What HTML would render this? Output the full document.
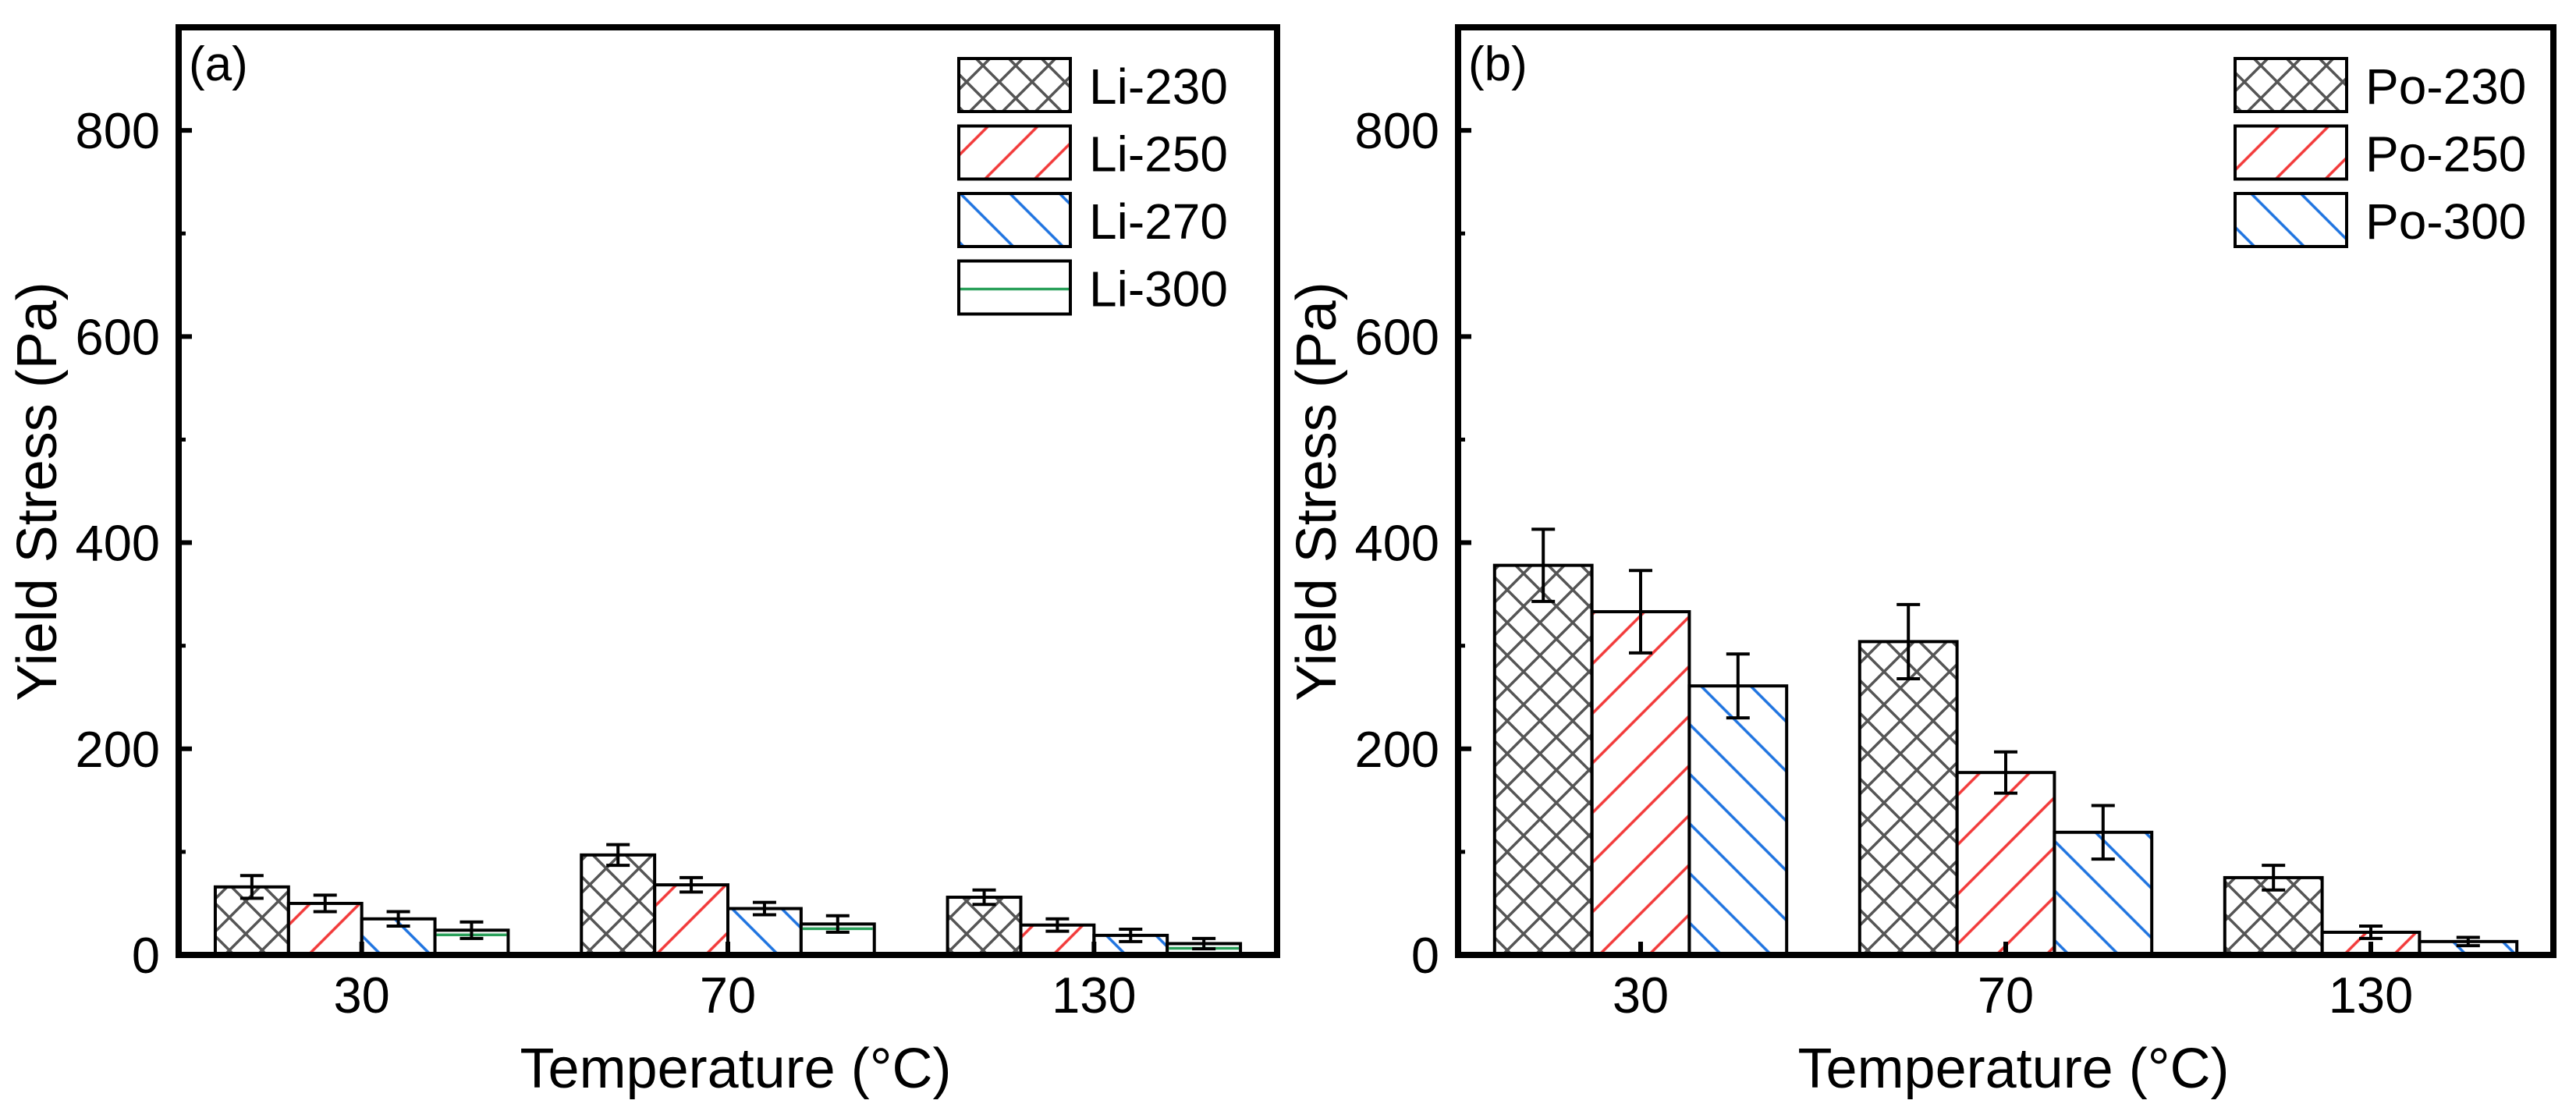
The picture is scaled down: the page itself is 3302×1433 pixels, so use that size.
<!DOCTYPE html>
<html><head><meta charset="utf-8"><style>
html,body{margin:0;padding:0;background:#fff;}
svg{display:block;font-family:"Liberation Sans",Arial,sans-serif;}
</style></head><body>
<svg id="fig" xmlns="http://www.w3.org/2000/svg" width="3302" height="1433" viewBox="0 0 3302 1433">
<defs>
<pattern id="pCross" patternUnits="userSpaceOnUse" width="42" height="42">
<path d="M0,0 L42,42 M42,0 L0,42" stroke="#555" stroke-width="3.5" fill="none"/>
</pattern>
<pattern id="pRed" patternUnits="userSpaceOnUse" width="45" height="45" patternTransform="rotate(45)">
<line x1="20" y1="0" x2="20" y2="45" stroke="#f23a3a" stroke-width="3.5"/>
</pattern>
<pattern id="pBlue" patternUnits="userSpaceOnUse" width="45" height="45" patternTransform="rotate(-45)">
<line x1="20" y1="0" x2="20" y2="45" stroke="#1f74e0" stroke-width="3.5"/>
</pattern>
</defs>
<g id="panelA"></g>
<g id="panelB"></g>
</svg>
<script>
const categories = ["30", "70", "130"];
const yTicks = [0, 200, 400, 600, 800];
const yMax = 900;

const seriesA = ["Li-230", "Li-250", "Li-270", "Li-300"];
const li230 = [66, 97, 56];
const li250 = [50, 68, 29];
const li270 = [35, 45, 19];
const li300 = [24, 30, 11];
const li230Err = [11, 10, 7];
const li250Err = [8, 7, 6];
const li270Err = [7, 6, 6];
const li300Err = [8, 8, 5];

const seriesB = ["Po-230", "Po-250", "Po-300"];
const po230 = [378, 304, 75];
const po250 = [333, 177, 22];
const po300 = [261, 119, 13];
const po230Err = [35, 36, 12];
const po250Err = [40, 20, 6];
const po300Err = [31, 26, 4];

const NS = "http://www.w3.org/2000/svg";
function mk(tag, attrs, parent, text) {
  const e = document.createElementNS(NS, tag);
  for (const k in attrs) e.setAttribute(k, attrs[k]);
  if (text !== undefined) e.textContent = text;
  parent.appendChild(e);
  return e;
}
function fillOf(f) { return f === "green" ? "#fff" : "url(#" + f + ")"; }

function drawPanel(g, cfg) {
  const L = cfg.left, R = cfg.right, T = 35, B = 1224;
  const yS = v => B - (v / yMax) * (B - T);
  const catW = (R - L) / categories.length;
  const xC = i => L + catW * (i + 0.5);
  const n = cfg.values.length;
  const bw = catW * 0.8 / n;

  cfg.values.forEach((vals, s) => {
    vals.forEach((v, i) => {
      const x = xC(i) - catW * 0.4 + s * bw;
      const r = mk("rect", {x: x, y: yS(v), width: bw, height: B - yS(v), fill: fillOf(cfg.fills[s]), stroke: "#000", "stroke-width": 4}, g);
      
      
      if (cfg.fills[s] === "green") {
        mk("line", {x1: x + 2, x2: x + bw - 2, y1: yS(v) + 6, y2: yS(v) + 6, stroke: "#2aa05a", "stroke-width": 3.5}, g);
      }
      const e = cfg.errs[s][i];
      const cx = x + bw / 2;
      const eb = mk("path", {d: `M${cx},${yS(v + e)} V${yS(v - e)} M${cx - 15},${yS(v + e)} H${cx + 15} M${cx - 15},${yS(v - e)} H${cx + 15}`, stroke: "#000", "stroke-width": 4, fill: "none"}, g);
      
      
    });
  });

  const fr = mk("rect", {x: L, y: T, width: R - L, height: B - T, fill: "none", stroke: "#000", "stroke-width": 8}, g);
  
  

  yTicks.forEach(t => {
    mk("line", {x1: L, x2: L + 17, y1: yS(t), y2: yS(t), stroke: "#000", "stroke-width": 6}, g);
    const tl = mk("text", {x: L - 24, y: yS(t) + 23, "text-anchor": "end", "font-size": 65}, g, String(t));
    
    
    if (t + 100 < yMax) mk("line", {x1: L, x2: L + 9, y1: yS(t + 100), y2: yS(t + 100), stroke: "#000", "stroke-width": 5}, g);
  });
  categories.forEach((c, i) => {
    mk("line", {x1: xC(i), x2: xC(i), y1: B, y2: B - 17, stroke: "#000", "stroke-width": 6}, g);
    const xl = mk("text", {x: xC(i), y: 1298, "text-anchor": "middle", "font-size": 65}, g, c);
    
    
  });

  const yt = mk("text", {x: 0, y: 0, transform: `translate(${cfg.yTitleX},630) rotate(-90)`, "text-anchor": "middle", "font-size": 72}, g, "Yield Stress (Pa)");
  
  
  const xt = mk("text", {x: (L + R) / 2 + 10, y: 1394, "text-anchor": "middle", "font-size": 72}, g, "Temperature (°C)");
  
  
  const pl = mk("text", {x: L + 13, y: 103, "font-size": 62}, g, cfg.label);
  
  

  cfg.names.forEach((nm, s) => {
    const y0 = 75 + s * 86.5;
    const lg = mk("g", {}, g);
    
    
    mk("rect", {x: cfg.legX, y: y0, width: 143, height: 68, fill: fillOf(cfg.fills[s]), stroke: "#000", "stroke-width": 4}, lg);
    if (cfg.fills[s] === "green") mk("line", {x1: cfg.legX + 2, x2: cfg.legX + 141, y1: y0 + 36, y2: y0 + 36, stroke: "#2aa05a", "stroke-width": 3.5}, lg);
    mk("text", {x: cfg.legX + 167, y: y0 + 58, "font-size": 64}, lg, nm);
  });
}

drawPanel(document.getElementById("panelA"), {
  left: 229, right: 1637, label: "(a)", yTitleX: 72, legX: 1229,
  names: seriesA, values: [li230, li250, li270, li300],
  errs: [li230Err, li250Err, li270Err, li300Err],
  fills: ["pCross", "pRed", "pBlue", "green"]
});
drawPanel(document.getElementById("panelB"), {
  left: 1869, right: 3273, label: "(b)", yTitleX: 1712, legX: 2865,
  names: seriesB, values: [po230, po250, po300],
  errs: [po230Err, po250Err, po300Err],
  fills: ["pCross", "pRed", "pBlue"]
});
</script>
</body></html>
